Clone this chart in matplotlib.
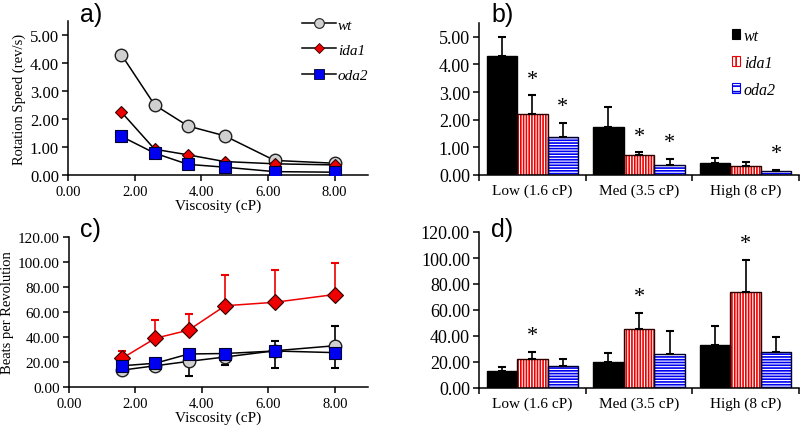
import matplotlib
matplotlib.use("Agg")
import matplotlib.pyplot as plt
import numpy as np
from matplotlib.patches import Patch
from matplotlib.lines import Line2D

# ---------------- data ----------------
viscosity = [1.6, 2.6, 3.6, 4.7, 6.2, 8.0]

speed_wt = [4.30, 2.50, 1.75, 1.40, 0.52, 0.42]
speed_ida1 = [2.25, 0.92, 0.72, 0.48, 0.40, 0.36]
speed_oda2 = [1.38, 0.78, 0.38, 0.28, 0.12, 0.10]

beats_wt = [13.5, 17.0, 20.5, 24.0, 29.0, 33.0]
beats_wt_err_up = [2.5, 4.0, 6.5, 6.0, 7.8, 15.5]
beats_ida1 = [23.0, 39.0, 45.5, 65.0, 67.8, 74.0]
beats_ida1_err_up = [5.5, 15.0, 12.8, 25.0, 26.2, 25.0]
beats_oda2 = [17.0, 19.0, 26.4, 26.8, 28.8, 27.5]
beats_oda2_err_down = [5.5, 3.0, 17.8, 9.2, 13.6, 12.3]

categories = ["Low (1.6 cP)", "Med (3.5 cP)", "High (8 cP)"]
bar_speed = {"wt": [4.30, 1.75, 0.42], "ida1": [2.22, 0.72, 0.34], "oda2": [1.37, 0.37, 0.13]}
bar_speed_err = {"wt": [0.71, 0.72, 0.20], "ida1": [0.66, 0.10, 0.12], "oda2": [0.52, 0.21, 0.06]}
bar_speed_star = {"wt": [False, False, False], "ida1": [True, True, False], "oda2": [True, True, True]}

bar_beats = {"wt": [13.4, 20.2, 32.8], "ida1": [22.5, 45.2, 73.6], "oda2": [16.8, 26.2, 27.4]}
bar_beats_err = {"wt": [2.8, 6.4, 15.2], "ida1": [5.4, 12.8, 25.0], "oda2": [5.2, 17.6, 12.2]}
bar_beats_star = {"wt": [False, False, False], "ida1": [True, True, True], "oda2": [False, False, False]}

series = ["wt", "ida1", "oda2"]
speed_ticks = [0, 1, 2, 3, 4, 5]
beats_ticks = [0, 20, 40, 60, 80, 100, 120]
visc_ticks = [0, 2, 4, 6, 8]

# ---------------- style ----------------
plt.rcParams["font.family"] = ["Liberation Serif", "DejaVu Serif"]
plt.rcParams["hatch.linewidth"] = 1.2
LW = 1.1

GRAY = "#d0d0d0"
RED = "#ee0000"
BLUE = "#0000f0"

fig = plt.figure(figsize=(8, 4.31), dpi=100)
W, H = 800, 431


def place(l, t, r, b):
    return fig.add_axes([l / W, 1 - b / H, (r - l) / W, (b - t) / H])


axa = place(68, 22, 368, 176)
axb = place(479, 24, 799, 176)
axc = place(69, 238, 368, 388)
axd = place(479, 233, 799, 389)


def style(ax, yfs):
    for s in ["top", "right"]:
        ax.spines[s].set_visible(False)
    for s in ["left", "bottom"]:
        ax.spines[s].set_linewidth(LW)
    ax.tick_params(axis="both", which="major", direction="out", length=4.5, width=LW, colors="black")
    ax.tick_params(axis="y", labelsize=yfs, pad=2)
    ax.tick_params(axis="x", labelsize=10.5, pad=3)


# ---------------- panel a ----------------
style(axa, 12)
axa.plot(viscosity, speed_wt, "-o", color="black", lw=LW, ms=9, mfc=GRAY, mec="#202020", mew=1.0, zorder=3)
axa.plot(viscosity, speed_ida1, "-D", color="black", lw=LW, ms=6.5, mfc=RED, mec="#300000", mew=0.8, zorder=4)
axa.plot(viscosity, speed_oda2, "-s", color="black", lw=LW, ms=8.5, mfc=BLUE, mec="#000030", mew=0.8, zorder=5)
axa.set_xlim(0, 9)
axa.set_ylim(0, 5.5)
axa.set_xticks(visc_ticks)
axa.set_xticklabels([f"{v:.2f}" for v in visc_ticks])
axa.set_yticks(speed_ticks)
axa.set_yticklabels([f"{v:.2f}" for v in speed_ticks])
axa.set_xlabel("Viscosity (cP)", fontsize=11, labelpad=0)
axa.set_ylabel("Rotation Speed (rev/s)", fontsize=10.5, labelpad=3)
handles_a = [
    Line2D([], [], color="black", lw=LW, marker="o", ms=7, mfc=GRAY, mec="#202020", mew=0.8),
    Line2D([], [], color="black", lw=LW, marker="D", ms=5, mfc=RED, mec="#300000", mew=0.6),
    Line2D([], [], color="black", lw=LW, marker="s", ms=6.5, mfc=BLUE, mec="#000030", mew=0.6),
]
axa.legend(handles_a, series, loc="upper left", bbox_to_anchor=(0.78, 1.02), frameon=False,
           prop={"style": "italic", "size": 11}, handlelength=2.2, handletextpad=0.15,
           labelspacing=0.75, borderpad=0, borderaxespad=0)

# ---------------- panel c ----------------
style(axc, 11)
x = np.array(viscosity)
axc.errorbar(x, beats_wt, yerr=[np.zeros(6), beats_wt_err_up], fmt="none", ecolor="black",
             elinewidth=1.2, capsize=3, capthick=1.5, zorder=2)
axc.errorbar(x, beats_oda2, yerr=[beats_oda2_err_down, np.zeros(6)], fmt="none", ecolor="black",
             elinewidth=1.2, capsize=3, capthick=1.5, zorder=2)
axc.errorbar(x, beats_ida1, yerr=[np.zeros(6), beats_ida1_err_up], fmt="none", ecolor=RED,
             elinewidth=1.2, capsize=3, capthick=1.5, zorder=2)
axc.plot(x, beats_wt, "-o", color="black", lw=LW, ms=9, mfc=GRAY, mec="#202020", mew=1.0, zorder=3)
axc.plot(x, beats_ida1, "-D", color=RED, lw=LW, ms=8, mfc=RED, mec="#300000", mew=0.8, zorder=4)
axc.plot(x, beats_oda2, "-s", color="black", lw=LW, ms=9, mfc=BLUE, mec="#000030", mew=0.8, zorder=5)
axc.set_xlim(0, 9)
axc.set_ylim(0, 120)
axc.set_xticks(visc_ticks)
axc.set_xticklabels([f"{v:.2f}" for v in visc_ticks])
axc.set_yticks(beats_ticks)
axc.set_yticklabels([f"{v:.2f}" for v in beats_ticks])
axc.set_xlabel("Viscosity (cP)", fontsize=11, labelpad=0)
axc.set_ylabel("Beats per Revolution", fontsize=10.5, labelpad=3)

# ---------------- bar panels ----------------
BW = 0.286
face = {"wt": "black", "ida1": "white", "oda2": "white"}
hatch_col = {"wt": "black", "ida1": RED, "oda2": BLUE}
hatch = {"wt": None, "ida1": "||||||", "oda2": "------"}
outline = {"wt": "black", "ida1": "#300000", "oda2": "#000030"}


def bars(ax, vals, errs, stars, ymax, yticks, star_off):
    style(ax, 13)
    xc = np.arange(3) + 0.5
    for k, s in enumerate(series):
        xs = xc + (k - 1) * BW
        ax.bar(xs, vals[s], BW, color=face[s], edgecolor=hatch_col[s], hatch=hatch[s], lw=0, zorder=2)
        ax.bar(xs, vals[s], BW, fill=False, edgecolor=outline[s], lw=1.0, zorder=3)
        ax.errorbar(xs, vals[s], yerr=[np.zeros(3), errs[s]], fmt="none", ecolor="black",
                    elinewidth=1.2, capsize=3, capthick=1.5, zorder=4)
        for i in range(3):
            if stars[s][i]:
                ax.annotate("*", (xs[i], vals[s][i] + errs[s][i]), xytext=(0, star_off),
                            textcoords="offset points", ha="center", va="center", fontsize=16)
    ax.set_xlim(0, 3)
    ax.set_ylim(0, ymax)
    ax.set_xticks([0, 1, 2, 3])
    ax.set_xticklabels([])
    ax.set_xticks(xc, minor=True)
    ax.set_xticklabels(categories, minor=True)
    ax.tick_params(axis="x", which="minor", length=0, labelsize=11, pad=6)
    ax.set_yticks(yticks)
    ax.set_yticklabels([f"{v:.2f}" for v in yticks])


bars(axb, bar_speed, bar_speed_err, bar_speed_star, 5.5, speed_ticks, 11.5)
bars(axd, bar_beats, bar_beats_err, bar_beats_star, 120, beats_ticks, 11.5)

handles_b = [Patch(facecolor=face[s], edgecolor=hatch_col[s], hatch=("|||" if s == "ida1" else ("---" if s == "oda2" else None)), lw=0.8)
             for s in series]
axb.legend(handles_b, series, loc="upper left", bbox_to_anchor=(0.79, 0.97), frameon=False,
           prop={"style": "italic", "size": 11.5}, handlelength=0.5, handleheight=0.55,
           handletextpad=0.25, labelspacing=0.7, borderpad=0, borderaxespad=0)

# ---------------- panel letters ----------------
for txt, px, py in [("a)", 80, 15), ("b)", 491, 15), ("c)", 80, 230), ("d)", 491, 230)]:
    fig.text(px / W, 1 - py / H, txt, fontsize=18, family="Liberation Sans", ha="left", va="center")

fig.savefig("out.png", dpi=100)
